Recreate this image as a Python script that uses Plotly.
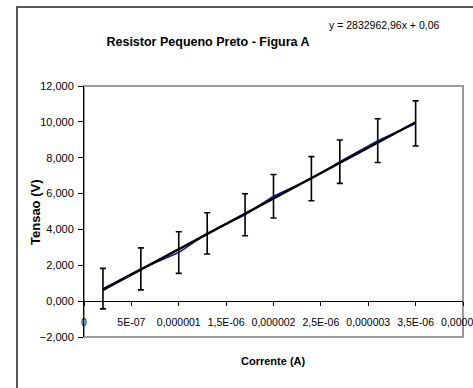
import plotly.graph_objects as go

# ---- data ----
corrente = [2.0e-7, 6.0e-7, 1.0e-6, 1.3e-6, 1.7e-6, 2.0e-6, 2.4e-6, 2.7e-6, 3.1e-6, 3.5e-6]
tensao = [0.70, 1.80, 2.71, 3.78, 4.82, 5.85, 6.83, 7.78, 8.95, 9.91]
erro = [1.13, 1.17, 1.16, 1.15, 1.17, 1.21, 1.23, 1.21, 1.22, 1.26]

trend_x = [2.0e-7, 3.5e-6]
trend_y = [0.63, 9.98]

x_tickvals = [0, 5e-7, 1e-6, 1.5e-6, 2e-6, 2.5e-6, 3e-6, 3.5e-6, 4e-6]
x_ticktext = ["0", "5E-07", "0,000001", "1,5E-06", "0,000002", "2,5E-06", "0,000003", "3,5E-06", "0,000004"]
y_tickvals = [-2, 0, 2, 4, 6, 8, 10, 12]

title_text = "Resistor Pequeno Preto - Figura A"
equation_text = "y = 2832962,96x + 0,06"
x_title = "Corrente (A)"
y_title = "Tensao (V)"

SANS = "Liberation Sans, Arial, sans-serif"

W, H = 473, 388
L, R, T, B = 84, 10, 86, 51
pw = W - L - R
ph = H - T - B

fig = go.Figure()

fig.add_trace(go.Scatter(
    x=corrente, y=tensao, mode="lines",
    line=dict(color="#1a1a8c", width=1.5),
    error_y=dict(type="data", array=erro, visible=True, color="black", thickness=1.6, width=3),
    showlegend=False, hoverinfo="skip",
))
fig.add_trace(go.Scatter(
    x=trend_x, y=trend_y, mode="lines",
    line=dict(color="black", width=2.4),
    showlegend=False, hoverinfo="skip",
))

ymin, ymax = -2, 12

fig.update_layout(
    width=W, height=H,
    margin=dict(l=L, r=R, t=T, b=B, pad=0, autoexpand=False),
    paper_bgcolor="white", plot_bgcolor="white",
    separators=",.",
    font=dict(family=SANS, size=11, color="black"),
    title=dict(text="<b>" + title_text + "</b>", x=(208 - L) / pw, xref="paper", xanchor="center",
               y=1 - 42 / H, yref="container", yanchor="middle",
               font=dict(family=SANS, size=12.5, color="black")),
    xaxis=dict(
        range=[0, 4e-6], tickvals=x_tickvals, ticktext=x_ticktext,
        showgrid=False, zeroline=False, automargin=False, tickangle=0,
        showline=True, linecolor="black", linewidth=1,
        ticks="outside", ticklen=4, tickcolor="black", tickwidth=1,
        anchor="free", position=(0 - ymin) / (ymax - ymin),
        ticklabeloverflow="allow", ticklabelstandoff=7,
        tickfont=dict(family=SANS, size=10.5),
    ),
    yaxis=dict(
        range=[ymin, ymax], tickvals=y_tickvals, tickformat=".3f",
        showgrid=False, zeroline=False, automargin=False,
        showline=True, linecolor="black", linewidth=1,
        ticks="outside", ticklen=5, tickcolor="black", tickwidth=1,
        ticklabelstandoff=2,
        tickfont=dict(family=SANS, size=11),
    ),
    shapes=[
        # plot area border (grey)
        dict(type="rect", xref="paper", yref="paper", x0=0, x1=1, y0=0, y1=1,
             line=dict(color="#9a9a9a", width=2), layer="below"),
        # outer chart border
        dict(type="rect", xref="paper", yref="paper",
             x0=(17 - L) / pw, x1=(W + 20 - L) / pw,
             y0=(H - T - (H + 20)) / ph, y1=1 + (T - 7) / ph,
             line=dict(color="#222222", width=1.5), layer="below"),
    ],
    annotations=[
        dict(text=equation_text, xref="paper", yref="paper",
             x=(327 - L) / pw, y=1 + (T - 25) / ph, xanchor="left", yanchor="middle",
             showarrow=False, font=dict(family=SANS, size=10.5)),
        dict(text="<b>" + y_title + "</b>", xref="paper", yref="paper",
             x=(35 - L) / pw, y=(H - B - 212) / ph, xanchor="center", yanchor="middle",
             textangle=-90, showarrow=False, font=dict(family=SANS, size=13)),
        dict(text="<b>" + x_title + "</b>", xref="paper", yref="paper",
             x=(273 - L) / pw, y=(H - B - 361) / ph, xanchor="center", yanchor="middle",
             showarrow=False, font=dict(family=SANS, size=11)),
    ],
)

fig.write_html("out.html")
